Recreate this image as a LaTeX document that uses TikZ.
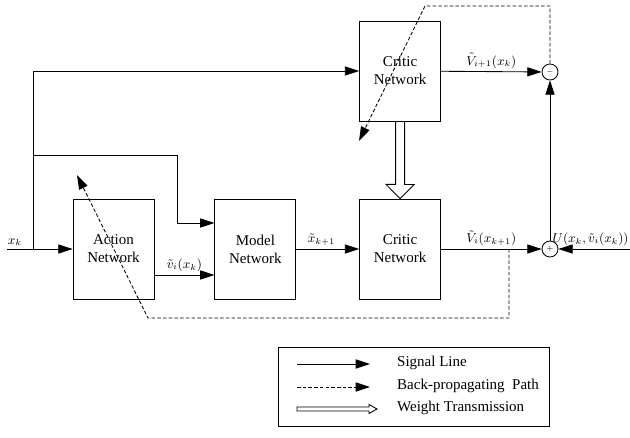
\documentclass[tikz,border=0pt]{standalone}
\usepackage{amsmath}
\usepackage{fontspec}
\setmainfont{Liberation Serif}
\usepackage{tikz}
\usetikzlibrary{positioning,arrows.meta}

\begin{document}
\begin{tikzpicture}[
  x=0.7pt, y=-0.7pt,
  line width=0.6pt,
  box/.style={draw,align=center,minimum width=56.7pt,minimum height=70pt,inner sep=2pt,font=\fontsize{10.5}{12.6}\selectfont},
  arr/.style={-{Triangle[length=10pt,width=6.4pt]}},
  bp/.style={arr,dash pattern=on 2.5pt off 1.5pt},
  sumc/.style={draw,circle,minimum size=11.2pt,inner sep=0pt,font=\tiny},
  note/.style={font=\small,inner sep=2pt},
  legtext/.style={anchor=west,font=\fontsize{10.5}{12}\selectfont}
]
\useasboundingbox (0,0) rectangle (630,438);

\node[box] (action) at (113.5,249) {Action\\Network};
\node[box, right=42pt of action] (model) {Model\\Network};
\node[box, right=44pt of model] (critic) {Critic\\Network};
\node[box, above=54pt of critic] (critictop) {Critic\\Network};

\node[sumc] (diff) at (550,72) {$-$};
\node[sumc] (sum) at (550,249) {$+$};

\coordinate (in) at (7,249);
\coordinate (uin) at (630,249);
\coordinate (j1) at (33,249);
\coordinate (j2) at (33,155);

% signal lines
\draw[arr] (in) -- node[note,above,pos=0.12]{$x_k$} (action);
\draw[arr] (j1) |- (critictop);
\draw[arr] (j2) -| ([xshift=-25.9pt,yshift=18.2pt]model.west) -- ([yshift=18.2pt]model.west);
\draw[arr] ([yshift=-18.2pt]action.east) -- node[note,above]{$\tilde{v}_i(x_k)$} ([yshift=-18.2pt]model.west);
\draw[arr] (model) -- node[note,above,pos=0.4]{$\tilde{x}_{k+1}$} (critic);
\draw[arr] (critic) -- node[note,above]{$\tilde{V}_i(x_{k+1})$} (sum);
\draw[arr] (critictop) -- node[note,above]{$\tilde{V}_{i+1}(x_k)$} (diff);
\draw[arr] (uin) -- node[note,above,xshift=-2.5pt]{$U(x_k,\tilde{v}_i(x_k))$} (sum);
\draw[arr] (sum) -- (diff);

% weight transmission
\draw[fill=white] ([xshift=-3.15pt]critictop.south) -- ++(0,63) -- ++(-9.5,0) -- (critic.north)
  -- ++(14,-14) -- ++(-9.5,0) -- ++(0,-63) -- cycle;

% back-propagating paths
\coordinate (bpc1) at (425,6);
\coordinate (bp1) at (359,141);
\coordinate (bpc2) at (509,249);
\coordinate (bpc3) at (148,318);
\coordinate (bp2) at (77,175);
\draw[bp] (diff) |- (bpc1) -- (bp1);
\draw[bp] (bpc2) |- (bpc3) -- (bp2);

% legend
\node[draw,minimum width=189.7pt,minimum height=55.3pt] (legend) at (413.5,386.5) {};
\coordinate (l1a) at (297,364);
\coordinate (l1b) at (370,364);
\coordinate (l2a) at (297,387);
\coordinate (l2b) at (370,387);
\coordinate (l3a) at (297,409);
\coordinate (l3b) at (377,409);
\draw[arr] (l1a) -- (l1b);
\draw[bp] (l2a) -- (l2b);
\draw (l3a) ++(0,-2) -- ++(72,0) -- ++(0,-2.5) -- (l3b) -- ++(-8,4.5) -- ++(0,-2.5) -- ++(-72,0) -- cycle;
\node[legtext] (l1t) at (392,363) {Signal Line};
\node[legtext] (l2t) at (392,386) {Back-propagating\ \ Path};
\node[legtext] (l3t) at (392,408) {Weight Transmission};
\end{tikzpicture}
\end{document}
